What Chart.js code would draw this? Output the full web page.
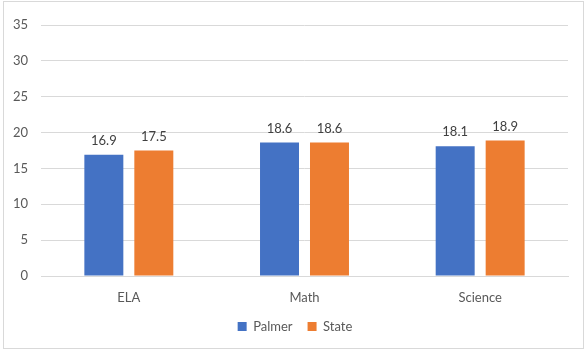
<!DOCTYPE html>
<html>
<head>
<meta charset="utf-8">
<script src="https://cdn.jsdelivr.net/npm/chart.js@4"></script>
<style>
html,body{margin:0;padding:0;background:#fff;}
#wrap{position:relative;width:586px;height:352px;}
</style>
</head>
<body>
<div id="wrap"><canvas id="c" width="586" height="352"></canvas></div>
<script>
const categories = ["ELA", "Math", "Science"];
const palmerValues = [16.9, 18.6, 18.1];
const stateValues = [17.5, 18.6, 18.9];
const seriesNames = ["Palmer", "State"];
const yTicks = [0, 5, 10, 15, 20, 25, 30, 35];

const FONT = "Lato, 'Open Sans', sans-serif";

const frame = {
  id: 'frame',
  beforeDraw(chart) {
    const ctx = chart.ctx;
    ctx.save();
    ctx.fillStyle = '#fff';
    ctx.fillRect(0, 0, chart.width, chart.height);
    ctx.strokeStyle = '#d9d9d9';
    ctx.lineWidth = 1;
    ctx.strokeRect(3.5, 1.5, 580, 347);
    ctx.restore();
  }
};

const legendShift = {
  id: 'legendShift',
  afterLayout(chart) {
    if (chart.legend) {
      chart.legend.left += 11;
      chart.legend.right += 11;
    }
  }
};

const valueLabels = {
  id: 'valueLabels',
  afterDatasetsDraw(chart) {
    const ctx = chart.ctx;
    ctx.save();
    ctx.font = "13px " + FONT;
    ctx.fillStyle = '#404040';
    ctx.textAlign = 'center';
    ctx.textBaseline = 'middle';
    chart.data.datasets.forEach((ds, i) => {
      const meta = chart.getDatasetMeta(i);
      meta.data.forEach((bar, j) => {
        ctx.fillText(ds.data[j].toFixed(1), bar.x, bar.y - 14);
      });
    });
    ctx.restore();
  }
};

new Chart(document.getElementById('c'), {
  type: 'bar',
  data: {
    labels: categories,
    datasets: [
      { label: seriesNames[0], data: palmerValues, backgroundColor: '#4472C4' },
      { label: seriesNames[1], data: stateValues, backgroundColor: '#ED7D31' }
    ]
  },
  options: {
    responsive: false,
    animation: false,
    devicePixelRatio: 1,
    categoryPercentage: 0.569,
    barPercentage: 0.78,
    layout: { padding: { left: 0, right: 18, top: 25, bottom: 9 } },
    plugins: {
      tooltip: { enabled: false },
      legend: {
        position: 'bottom',
        labels: {
          boxWidth: 9,
          boxHeight: 9,
          padding: 15,
          color: '#595959',
          font: { size: 13, family: FONT }
        }
      }
    },
    scales: {
      x: {
        afterFit(s) { s.height = 29; },
        grid: { display: false, drawTicks: false },
        border: { display: true, color: '#d9d9d9' },
        ticks: { color: '#595959', padding: 14, font: { size: 13, family: FONT } }
      },
      y: {
        min: 0,
        max: 35,
        afterFit(s) { s.width = 41; },
        afterBuildTicks(s) { s.ticks = yTicks.map(v => ({ value: v })); },
        grid: { color: '#d9d9d9', drawTicks: false },
        border: { display: false },
        ticks: { color: '#595959', padding: 13, font: { size: 13, family: FONT } }
      }
    }
  },
  plugins: [frame, legendShift, valueLabels]
});
</script>
</body>
</html>
